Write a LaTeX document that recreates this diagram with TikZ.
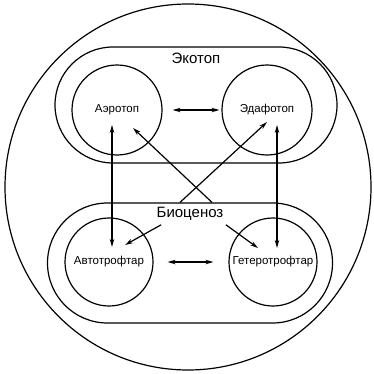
\documentclass[tikz,border=0pt]{standalone}
\usepackage{fontspec}
\setmainfont{Liberation Sans}
\usepackage{tikz}
\usetikzlibrary{arrows.meta,positioning,calc}

\begin{document}
\begin{tikzpicture}[
  x=1pt, y=1pt,
  font=\fontsize{11.5}{13}\selectfont,
  outer/.style={draw, circle, line width=1.2pt, minimum size=366pt, inner sep=0pt},
  zone/.style={draw, rounded corners=58pt, line width=1.2pt, inner sep=0pt},
  part/.style={draw, circle, line width=1.2pt, minimum size=90pt, inner sep=0pt},
  big/.style={font=\fontsize{15}{17}\selectfont},
  arr/.style={-{Stealth[length=8pt, width=4.5pt]}, line width=1.2pt},
  dbl/.style={{Stealth[length=8pt, width=4.5pt]}-{Stealth[length=8pt, width=4.5pt]}, line width=1.2pt}
]
  \useasboundingbox (0,0) rectangle (374,373);

  % Outer circle
  \node[outer] (geo) at (188,186) {};

  % Ecotope
  \node[zone, minimum width=282pt, minimum height=116pt] (eco) at (196,268) {};
  \node[big, below=3pt of eco.north] (eco-lbl) {Экотоп};
  \node[part] (aero) at (117,263) {Аэротоп};
  \node[part] (edafo) at (267,263) {Эдафотоп};

  % Biocenosis
  \node[zone, rounded corners=60pt, minimum width=285pt, minimum height=120pt] (bio) at (190,110) {};
  \node[big, below=1pt of bio.north] (bio-lbl) {Биоценоз};
  \node[part, minimum size=88pt] (avto) at (109,111) {Автотрофтар};
  \node[part, minimum size=88pt] (getero) at (273,111) {Гетеротрофтар};

  % Horizontal links
  \draw[dbl, shorten <=10pt, shorten >=2pt] (aero) -- (edafo);
  \draw[dbl, shorten <=14pt, shorten >=15pt] (avto) -- (getero);

  % Vertical links
  \draw[dbl] ($(aero.center)+(-5,-15)$) -- ($(avto.center)+(3,15)$);
  \draw[dbl] ($(edafo.center)+(10,-15)$) -- ($(getero.center)+(4,14)$);

  % Cross links from biocenosis
  \coordinate (cross-r) at ($(bio.north)+(22,0)$);
  \coordinate (cross-l) at ($(bio.north)+(-10,0)$);
  \draw[arr] (cross-r) -- ($(aero.center)+(16,-18)$);
  \draw[arr] (cross-l) -- ($(edafo.center)+(0,-12)$);

  % Biocenosis to its parts
  \draw[arr] ($(bio-lbl.south west)+(8,-1)$) -- ($(avto.center)+(16,17)$);
  \draw[arr] ($(bio-lbl.south east)+(-1,-1)$) -- ($(getero.center)+(-15,14)$);
\end{tikzpicture}
\end{document}
